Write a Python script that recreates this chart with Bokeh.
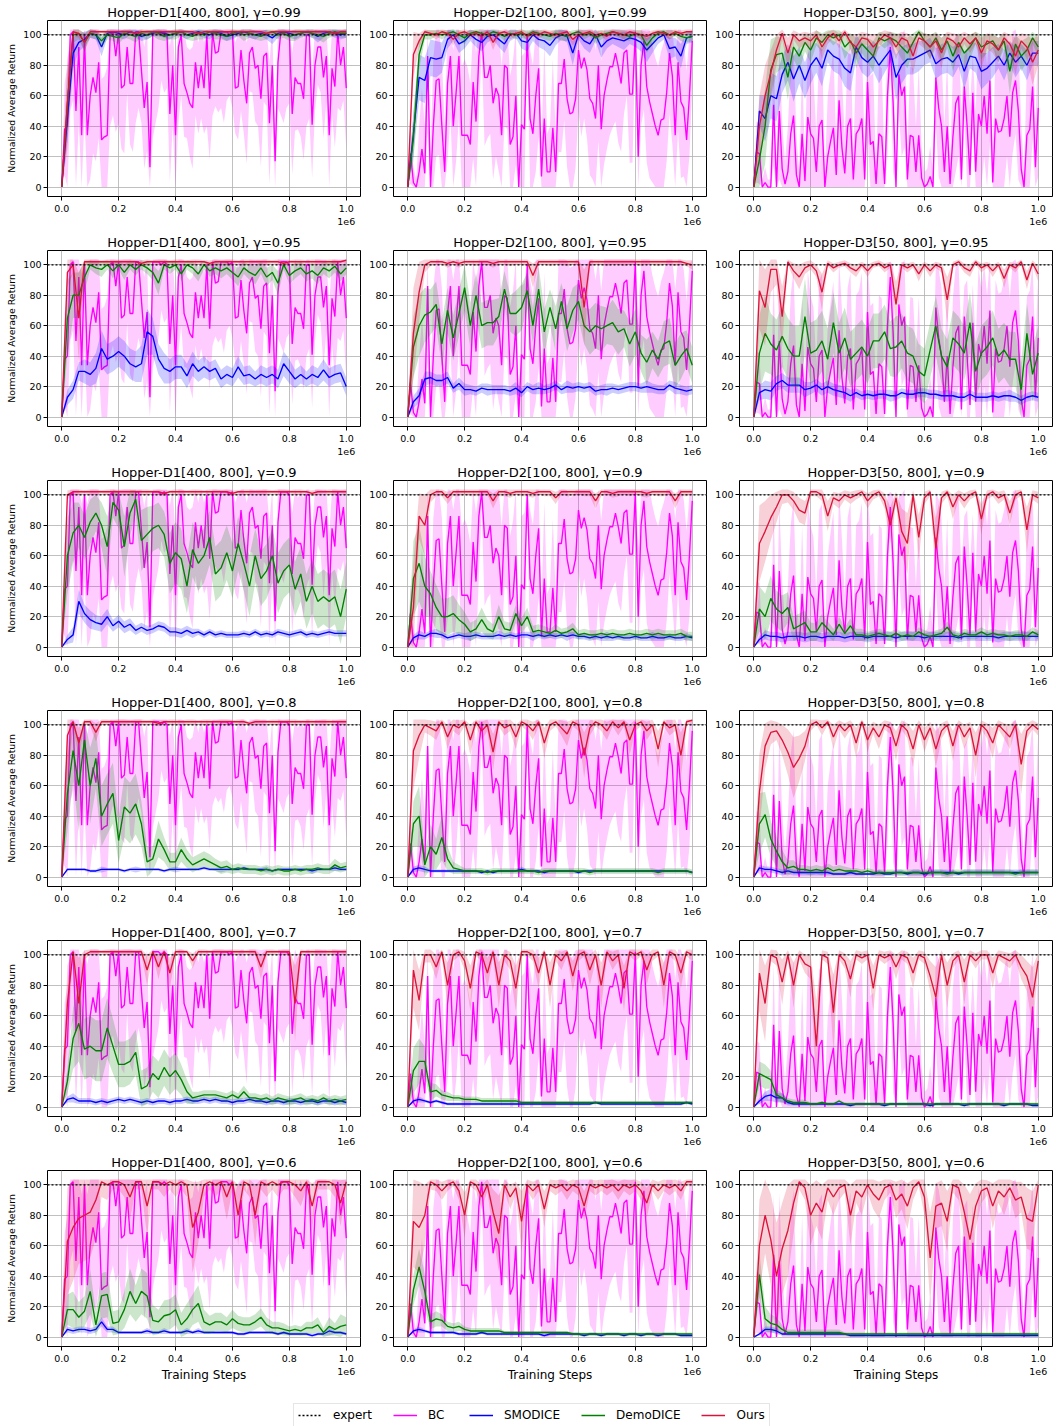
import numpy as np
from bokeh.plotting import figure
from bokeh.models import Range1d, FixedTicker, Span, Legend, LegendItem
from bokeh.layouts import gridplot, column
from bokeh.embed import file_html
from bokeh.resources import INLINE

FONT = "DejaVu Sans"
DATASETS = ["Hopper-D1[400, 800]", "Hopper-D2[100, 800]", "Hopper-D3[50, 800]"]
DKEYS = ["D1", "D2", "D3"]
GAMMAS = ["0.99", "0.95", "0.9", "0.8", "0.7", "0.6"]
GKEYS = ["G099", "G095", "G09", "G08", "G07", "G06"]
METHODS = ["BC", "SMODICE", "DemoDICE", "Ours"]
COLORS = {"BC": "#ff00ff", "SMODICE": "#0000ff", "DemoDICE": "#008000", "Ours": "#dc143c"}
EXPERT_SCORE = 100
MAX_STEPS = 1000000
BAND_CAP = 103.5
X_TICKS = [0, 200000, 400000, 600000, 800000, 1000000]
X_TICK_LABELS = ["0.0", "0.2", "0.4", "0.6", "0.8", "1.0\n1e6"]
Y_TICKS = [0, 20, 40, 60, 80, 100]

# ---------------- BC (independent of gamma) ----------------
BC_D1 = [0,38,40,100,102,50,92,34,100,34, 60,72,62,82,31,33,34,100,102,86,
         102,65,67,92,68,68,102,102,77,52, 69,13,102,102,102,100,102,100,48,80,
         34,92,100,68,62,55,52,82,65,80, 65,100,58,102,88,89,102,102,102,100,
         102,65,66,90,70,55,88,92,78,80, 58,86,88,42,80,17,82,102,102,102,
         100,48,72,68,68,58,100,100,41,80, 92,92,72,86,34,78,66,102,80,92, 65]
BC_D1_STD = [0,30,40,50,45,60,50,60,55,60, 55,50,45,50,40,40,45,60,55,50,
             60,40,45,30,40,45,60,50,35,40, 45,20,70,60,50,30,40,35,45,40,
             40,50,40,35,30,35,40,35,30,35, 30,60,40,55,35,40,50,60,45,40,
             50,30,35,40,35,40,25,30,35,40, 45,30,35,40,35,20,30,55,60,50,
             45,40,35,30,35,40,60,55,35,30, 25,30,40,30,40,30,40,50,30,35, 40]
BC_D2 = [0,22,3,0,10,25,9,86,0,40, 70,71,40,10,68,86,40,62,86,34,
         34,34,28,69,43,86,102,72,72,80, 55,65,60,34,80,78,28,33,60,0,
         41,38,100,45,35,60,78,7,45,10, 10,39,10,68,68,84,58,48,49,58,
         90,78,85,77,58,55,45,80,38,60, 70,79,79,88,79,68,88,90,61,61,
         102,20,80,96,66,56,48,40,34,44, 45,62,88,73,34,82,56,52,31,60, 96]
BC_D2_STD = [0,20,10,5,30,40,30,50,20,45, 50,50,45,30,50,40,50,45,40,45,
             50,45,40,50,45,40,10,45,40,45, 50,45,50,45,40,40,45,50,45,10,
             45,50,10,45,45,50,45,20,50,25, 30,45,25,45,45,40,45,50,50,45,
             40,45,40,45,50,50,45,50,45,45, 45,45,40,45,50,45,40,30,45,45,
             10,45,40,45,50,50,45,45,45,45, 50,45,40,45,50,45,50,45,45,40, 30]
BC_D3 = [0,23,22,0,3,0,0,54,0,50, 12,2,10,35,47,8,0,35,4,46,
         35,32,10,40,44,0,20,30,39,8, 57,26,9,40,45,5,35,38,45,5,
         69,28,30,2,35,33,2,60,92,55, 0,74,60,66,5,34,33,10,34,6,
         0,2,7,0,72,52,40,10,40,2, 33,55,60,5,66,40,8,62,10,48,
         40,60,35,70,3,45,36,37,45,60, 33,62,70,50,12,0,34,38,66,13, 52]
BC_D3_STD = [0,20,20,5,10,5,5,40,10,45, 30,15,30,45,50,25,10,45,15,50,
             45,40,25,50,50,10,40,45,50,20, 60,45,25,45,50,20,45,45,50,20,
             35,45,45,10,45,45,10,40,10,45, 10,25,40,40,20,45,45,30,45,20,
             10,10,20,10,30,45,45,30,45,10, 45,45,40,45,20,50,45,25,40,50,
             45,40,45,40,20,45,45,45,45,40, 45,40,35,45,30,10,45,45,35,30, 45]

# ---------------- gamma = 0.99 ----------------
SMODICE_D1_G099 = [0,45,88,95,97,101,100,92,101,102, 101,100,102,101,99,100,101,102,101,100, 101,102,100,101,102,101,100,102,101,99, 100,101,102,101,100,101,100,98,101,102, 101,100,101,102,101,99,101,102,101,100, 101]
SMODICE_D1_G099_STD = [0,15,10,6,5,3,3,6,3,2, 3,3,2,3,3,3,2,3,3,3, 2,3,3,2,3,3,3,2,3,3, 3,2,3,3,3,2,3,4,3,2, 3,3,2,3,3,4,3,2,3,3, 3]
DEMODICE_D1_G099 = [0,55,100,101,95,101,100,96,100,99, 98,101,100,99,101,100,102,101,99,100, 101,102,100,99,101,100,102,101,100,99, 101,102,100,101,100,99,101,102,100,101, 99,100,101,102,101,100,99,101,102,101, 101]
DEMODICE_D1_G099_STD = [0,20,5,4,6,3,3,4,3,3, 4,3,3,4,3,3,3,4,3,3, 4,3,3,3,4,3,3,4,3,3, 3,3,4,3,3,3,4,3,3,3, 3,4,3,3,3,3,4,3,3,3, 3]
OURS_D1_G099 = [0,55,102,101,95,102,102,102,102,102, 102,102,102,101,102,102,102,102,102,102, 102,102,102,102,101,102,102,102,102,102, 102,102,102,102,102,102,101,102,102,102, 102,102,102,102,102,102,102,102,101,102, 102]
OURS_D1_G099_STD = [0,30,3,3,6,2,2,1,2,2, 1,2,2,1,2,2,1,2,2,1, 2,2,1,2,2,1,2,2,1,2, 2,1,2,2,1,2,2,1,2,2, 1,2,2,1,2,2,1,2,2,1, 2]
SMODICE_D2_G099 = [0,35,72,70,85,84,85,97,100,94, 96,100,97,95,99,100,97,94,100,101, 96,95,100,97,96,93,98,100,99,88, 100,96,94,100,92,96,98,97,96,98, 97,95,90,94,98,100,91,92,86,98, 99]
SMODICE_D2_G099_STD = [0,15,15,15,12,12,10,6,4,6, 5,4,5,6,4,3,5,6,4,3, 5,6,4,5,6,7,5,3,4,8, 3,5,6,4,7,5,4,5,6,4, 5,6,8,6,4,3,7,6,8,4, 4]
DEMODICE_D2_G099 = [0,32,87,100,100,101,100,101,102,100, 98,101,102,101,100,102,101,99,101,100, 101,100,102,101,100,99,101,100,99,101, 102,100,101,98,100,101,102,101,100,99, 101,100,93,98,101,102,100,101,99,98, 99]
DEMODICE_D2_G099_STD = [0,15,10,3,3,2,3,2,2,3, 4,2,2,3,3,2,2,3,2,3, 3,3,2,2,3,3,3,4,3,2, 2,3,2,4,3,2,2,3,3,3, 2,3,5,4,2,2,3,2,3,3, 3]
OURS_D2_G099 = [0,87,96,102,101,100,102,101,97,101, 102,100,101,99,102,95,101,102,100,101, 102,99,101,100,102,101,100,101,102,97, 100,101,102,100,101,99,102,101,100,102, 101,100,99,101,102,101,100,102,101,102, 102]
OURS_D2_G099_STD = [0,15,5,2,2,3,2,2,4,2, 2,3,2,3,2,5,2,2,3,2, 2,3,2,3,2,2,3,2,2,4, 3,2,2,3,2,3,2,2,3,2, 2,3,3,2,2,2,3,2,2,2, 2]
SMODICE_D3_G099 = [0,50,45,60,58,74,82,71,80,70, 80,85,78,90,86,84,78,75,92,85, 82,86,80,85,90,72,80,84,84,86, 88,90,81,84,85,82,87,76,86,85, 76,78,82,86,80,88,82,86,80,88, 88]
SMODICE_D3_G099_STD = [0,10,15,15,15,12,12,15,12,12, 12,10,12,8,10,10,12,12,8,10, 10,10,12,10,8,15,12,10,10,10, 8,8,10,10,10,10,8,12,8,10, 12,10,10,8,10,8,10,8,10,8, 8]
DEMODICE_D3_G099 = [0,18,40,77,87,88,72,92,86,95, 90,98,95,100,98,100,92,96,88,94, 90,86,98,96,98,96,92,88,95,102, 96,92,98,90,96,86,95,88,92,98, 92,94,96,90,96,76,94,86,90,98, 92]
DEMODICE_D3_G099_STD = [0,20,25,20,12,10,15,8,10,6, 8,5,6,3,5,3,8,5,10,6, 8,10,4,5,4,5,8,10,6,2, 5,8,4,8,5,10,6,10,8,4, 8,6,5,8,5,15,6,10,8,4, 6]
OURS_D3_G099 = [0,40,60,75,90,101,88,100,96,98, 96,100,92,98,101,96,102,95,92,98, 97,92,96,100,98,92,98,96,86,98, 96,92,96,88,98,96,92,98,94,98, 88,96,94,90,98,94,86,96,92,82, 90]
OURS_D3_G099_STD = [0,20,20,15,10,4,10,3,5,4, 5,3,8,4,3,5,2,5,8,4, 4,8,5,3,4,8,4,5,12,4, 5,8,5,10,4,5,8,4,6,4, 10,5,6,8,4,6,12,5,8,15, 10]

# ---------------- gamma = 0.95 ----------------
SMODICE_D1_G095 = [0,13,18,30,30,28,32,45,38,40, 43,40,35,33,35,56,53,38,32,30, 33,33,27,35,30,33,30,32,25,28, 26,33,27,28,25,28,26,28,25,35, 30,25,28,25,28,26,31,26,28,29, 20]
SMODICE_D1_G095_STD = [0,5,6,6,8,8,10,12,10,10, 10,10,10,10,12,15,12,10,10,8, 8,8,8,8,7,7,6,6,6,6, 6,7,6,6,5,6,6,6,6,8, 8,6,6,5,6,6,7,6,6,6, 6]
DEMODICE_D1_G095 = [0,65,80,80,92,100,98,97,100,96, 100,95,100,97,100,98,95,88,100,98, 100,94,100,98,94,100,96,98,96,98, 95,92,98,95,93,98,92,95,88,100, 93,96,98,94,96,93,98,96,99,94, 98]
DEMODICE_D1_G095_STD = [0,25,15,15,10,3,4,5,3,5, 3,5,3,4,3,4,5,8,3,4, 3,5,3,4,5,3,4,4,5,4, 5,6,4,5,6,4,6,5,8,3, 6,5,4,5,5,6,4,5,4,5, 4]
OURS_D1_G095 = [0,95,100,65,102,102,102,102,102,102, 102,102,102,102,101,102,102,102,102,102, 102,102,102,102,102,102,101,102,102,102, 102,102,102,102,102,102,102,102,102,101, 102,102,102,102,102,102,102,102,102,102, 103]
OURS_D1_G095_STD = [0,10,5,30,2,2,2,1,2,2, 1,2,2,1,2,2,1,2,2,1, 2,2,1,2,2,1,2,2,1,2, 2,1,2,2,1,2,2,1,2,2, 1,2,2,1,2,2,1,2,2,1, 2]
SMODICE_D2_G095 = [0,10,14,25,26,24,24,26,19,22, 18,18,17,19,18,18,18,18,17,19, 16,20,18,19,18,19,21,18,20,19, 20,19,20,17,18,18,19,18,19,20, 20,19,20,19,18,18,21,19,18,17, 18]
SMODICE_D2_G095_STD = [0,4,5,5,4,4,4,4,3,4, 4,3,3,3,4,3,3,3,3,4, 3,3,3,4,3,3,3,3,4,3, 3,3,3,3,3,4,3,3,3,3, 3,3,4,3,3,3,3,4,3,3, 3]
DEMODICE_D2_G095 = [0,46,60,67,69,74,48,70,52,68, 85,60,80,60,62,62,66,84,68,68, 72,83,60,84,56,72,58,76,58,70, 76,60,56,60,58,60,62,56,58,48, 56,42,36,44,38,48,50,34,40,45, 34]
DEMODICE_D2_G095_STD = [0,20,20,18,15,15,15,15,15,15, 15,15,15,15,15,15,12,12,12,15, 15,12,12,15,15,12,15,12,15,15, 12,12,15,15,15,12,15,15,12,15, 15,12,15,12,12,15,15,15,15,12, 12]
OURS_D2_G095 = [0,55,82,100,102,102,102,101,102,101, 102,102,102,102,102,101,102,102,102,102, 102,102,93,102,102,102,102,102,102,102, 102,72,102,102,102,102,102,102,102,102, 102,102,102,102,102,102,102,102,102,101, 100]
OURS_D2_G095_STD = [0,30,20,5,3,2,2,3,2,3, 2,2,3,2,2,3,2,2,3,2, 2,3,8,2,2,3,2,2,3,2, 2,25,3,2,2,3,2,2,3,2, 2,3,2,2,3,2,2,3,2,2, 3]
SMODICE_D3_G095 = [0,16,18,17,22,24,21,21,21,18, 19,21,18,20,18,17,16,14,16,14, 15,14,15,15,14,14,16,15,15,16, 16,15,15,14,14,14,13,13,15,13, 13,13,14,13,14,14,13,11,13,14, 13]
SMODICE_D3_G095_STD = [0,5,6,6,5,5,5,5,5,5, 4,4,4,4,4,4,4,4,3,3, 3,3,3,3,4,3,3,3,3,3, 3,3,3,3,4,3,3,3,3,3, 3,3,3,3,3,4,3,3,3,3, 3]
DEMODICE_D3_G095 = [0,42,55,48,44,53,45,40,40,66, 42,44,50,38,62,42,52,38,42,46, 40,50,50,56,45,46,50,42,40,30, 27,44,60,40,33,52,48,42,62,30, 42,46,52,40,44,38,38,18,55,28, 42]
DEMODICE_D3_G095_STD = [0,25,25,20,20,20,20,20,20,25, 20,20,20,20,20,20,20,18,18,18, 18,18,18,18,18,20,18,18,18,18, 18,18,20,18,18,18,18,18,20,18, 18,18,18,18,18,18,18,18,20,18, 18]
OURS_D3_G095 = [0,83,72,97,97,66,102,96,92,98, 100,96,82,101,98,100,101,98,96,100, 96,100,101,98,100,74,100,98,100,94, 100,96,100,98,77,100,102,98,96,102, 98,100,96,100,91,100,98,102,90,101, 94]
OURS_D3_G095_STD = [0,25,25,15,10,20,2,5,8,4, 3,4,12,2,3,2,2,3,4,2, 4,2,2,3,2,15,2,3,2,5, 2,4,2,3,15,2,2,3,4,2, 3,2,4,2,6,2,3,2,6,2, 5]

# ---------------- gamma = 0.9 ----------------
SMODICE_D1_G09 = [0,5,8,30,22,18,16,15,20,14, 17,13,15,11,13,11,12,14,13,10, 10,9,11,9,10,8,10,8,9,8, 8,8,9,8,10,8,9,8,10,9, 8,9,10,8,9,8,9,10,9,9, 9]
SMODICE_D1_G09_STD = [0,3,5,8,6,6,5,5,5,4, 4,4,4,3,3,3,3,3,3,3, 3,3,3,3,2,2,2,2,2,2, 2,2,2,2,2,2,2,2,2,2, 2,2,2,2,2,2,2,2,2,2, 2]
DEMODICE_D1_G09 = [0,60,75,80,72,82,88,80,66,95, 90,66,88,97,70,74,78,80,74,55, 62,58,40,64,55,60,72,48,52,62, 50,68,55,40,60,45,50,60,42,50, 54,38,48,30,40,30,33,30,33,20, 38]
DEMODICE_D1_G09_STD = [0,25,20,15,15,15,12,15,20,10, 12,20,15,10,20,18,15,15,15,20, 20,20,18,18,18,18,18,18,18,18, 18,18,18,20,18,18,18,18,20,18, 18,18,18,18,18,18,18,18,18,18, 18]
OURS_D1_G09 = [0,100,102,102,102,102,102,102,102,102, 102,102,102,102,102,102,102,102,101,102, 102,102,102,102,102,102,102,102,102,102, 101,102,102,102,102,102,102,102,102,102, 102,102,102,102,101,102,102,102,102,102, 102]
OURS_D1_G09_STD = [0,3,2,2,1,2,2,1,2,2, 1,2,2,1,2,2,1,2,2,1, 2,2,1,2,2,1,2,2,1,2, 2,1,2,2,1,2,2,1,2,2, 1,2,2,1,2,2,1,2,2,1, 2]
SMODICE_D2_G09 = [0,6,8,7,9,9,8,6,7,8, 7,7,8,7,7,7,8,7,8,7, 8,8,7,8,7,8,7,8,7,8, 7,7,6,7,6,7,6,7,6,6, 7,6,6,7,6,6,7,6,6,7, 6]
SMODICE_D2_G09_STD = [0,2,3,2,2,3,2,2,2,2, 2,3,2,2,2,2,3,2,2,2, 2,2,3,2,2,2,2,2,3,2, 2,2,2,2,2,3,2,2,2,2, 2,2,2,3,2,2,2,2,2,2, 2]
DEMODICE_D2_G09 = [0,45,55,40,35,26,20,20,22,18, 15,10,12,18,12,10,20,12,11,22, 14,20,10,11,10,9,11,9,10,12, 8,9,8,8,9,8,9,8,8,9, 8,8,9,8,9,8,8,8,9,7, 7]
DEMODICE_D2_G09_STD = [0,25,25,20,15,15,12,12,12,10, 8,6,6,8,6,5,8,5,5,6, 5,6,4,4,4,3,4,3,3,4, 3,3,3,3,3,3,3,3,3,3, 3,3,3,3,3,3,3,3,3,3, 3]
OURS_D2_G09 = [0,26,86,80,100,102,102,98,102,102, 102,102,102,102,102,96,102,102,101,102, 102,102,101,102,102,102,98,102,102,102, 102,102,102,96,102,102,101,102,102,102, 102,102,101,102,102,102,102,96,102,102, 102]
OURS_D2_G09_STD = [0,30,15,20,5,3,3,4,3,3, 2,3,3,3,2,5,3,3,3,2, 3,3,3,2,3,3,4,2,3,3, 2,3,3,5,3,2,3,3,2,3, 2,3,3,2,3,3,2,5,3,3, 2]
SMODICE_D3_G09 = [0,5,8,7,7,6,7,7,7,6, 7,7,6,7,7,7,6,7,7,7, 6,7,7,7,7,6,7,7,7,7, 6,7,7,7,7,7,6,7,7,7, 7,7,7,6,7,7,7,7,7,7, 7]
SMODICE_D3_G09_STD = [0,2,3,3,3,3,3,3,3,3, 3,3,3,3,3,3,3,3,3,3, 3,3,3,3,3,3,3,3,3,3, 3,3,3,3,3,3,3,3,3,3, 3,3,3,3,3,3,3,3,3,3, 3]
DEMODICE_D3_G09 = [0,25,20,32,25,22,26,12,14,16, 10,10,16,12,8,15,9,14,8,8, 7,8,9,8,7,9,7,8,7,10, 8,7,8,9,13,8,7,9,8,8, 10,8,9,8,8,7,8,8,7,10, 8]
DEMODICE_D3_G09_STD = [0,15,15,15,12,12,10,8,8,8, 6,6,6,5,4,5,4,5,4,4, 3,3,3,3,3,3,3,3,3,3, 3,3,3,3,4,3,3,3,3,3, 3,3,3,3,3,3,3,3,3,3, 3]
OURS_D3_G09 = [0,68,76,85,92,100,100,96,90,88, 102,102,100,86,98,96,100,98,100,102, 96,100,102,96,80,98,76,68,100,72, 98,102,65,98,102,92,100,96,100,102, 84,100,102,98,100,88,100,102,77,100, 98]
OURS_D3_G09_STD = [0,25,20,15,10,6,5,6,8,8, 3,3,4,10,4,5,3,4,3,3, 5,3,3,5,12,4,15,20,3,15, 4,3,20,4,3,8,3,5,3,3, 10,3,3,4,3,8,3,3,15,3, 4]

# ---------------- gamma = 0.8 ----------------
SMODICE_D1_G08 = [0,5,5,5,5,4,4,5,5,5, 5,4,5,5,5,5,5,5,4,5, 5,5,5,5,5,6,5,5,5,5, 5,5,6,5,5,5,5,4,5,5, 5,5,5,5,4,5,5,5,6,5, 5]
SMODICE_D1_G08_STD = [0,1,1,1,1,1,1,2,1,1, 1,1,1,2,1,1,1,1,1,1, 2,1,1,1,1,1,1,1,2,1, 1,1,1,1,1,1,2,1,1,1, 1,1,1,1,2,1,1,1,2,1, 1]
DEMODICE_D1_G08 = [0,55,83,60,90,60,78,40,48,55, 24,46,42,48,35,10,12,25,18,10, 10,18,12,8,10,12,10,8,6,7, 5,6,5,5,5,4,5,4,5,4, 4,5,4,5,5,6,5,5,8,6, 7]
DEMODICE_D1_G08_STD = [0,25,20,30,15,25,20,20,20,20, 15,20,20,20,15,10,8,12,8,6, 6,8,6,5,5,5,5,4,4,4, 3,3,3,3,3,3,3,3,3,3, 3,3,3,3,3,3,3,3,4,3, 3]
OURS_D1_G08 = [0,93,102,88,102,102,95,102,102,102, 102,102,102,102,102,102,102,101,102,102, 102,102,102,102,102,102,102,102,102,102, 102,102,102,101,102,102,102,102,102,102, 102,102,102,102,102,102,102,102,102,102, 102]
OURS_D1_G08_STD = [0,30,3,10,2,3,6,2,2,1, 2,2,1,2,2,1,2,2,1,2, 2,1,2,2,1,2,2,1,2,2, 1,2,2,1,2,2,1,2,2,1, 2,2,1,2,2,1,2,2,1,2, 2]
SMODICE_D2_G08 = [0,5,6,5,4,4,4,4,4,4, 4,4,4,3,4,3,4,4,4,4, 5,4,4,4,3,4,4,4,4,4, 3,4,4,4,4,4,4,4,4,4, 4,4,4,4,4,4,4,4,4,4, 3]
SMODICE_D2_G08_STD = [0,2,2,2,1,1,1,1,1,1, 1,1,1,1,1,1,1,1,1,1, 2,1,1,1,1,1,1,1,1,1, 1,1,1,1,1,1,1,1,1,1, 1,1,1,1,1,1,1,1,1,1, 1]
DEMODICE_D2_G08 = [0,35,40,8,20,15,26,12,6,5, 4,4,4,4,3,4,4,4,4,4, 4,4,4,3,4,4,4,4,4,4, 4,4,3,4,4,4,4,4,4,4, 4,4,4,4,3,4,4,4,4,4, 3]
DEMODICE_D2_G08_STD = [0,15,20,8,15,10,15,8,4,3, 2,2,2,2,2,2,2,2,2,2, 2,2,2,2,2,2,2,2,2,2, 2,2,2,2,2,2,2,2,2,2, 2,2,2,2,2,2,2,2,2,2, 2]
OURS_D2_G08 = [0,83,93,100,98,96,102,92,100,98, 102,90,102,96,100,82,102,98,100,92, 102,100,96,102,88,100,102,98,94,102, 100,80,98,102,100,96,102,98,102,90, 100,102,96,100,84,102,98,100,80,102, 103]
OURS_D2_G08_STD = [0,25,15,5,5,6,3,8,4,5, 3,10,3,6,4,12,3,5,4,8, 3,4,6,3,10,4,3,5,8,3, 4,15,5,3,4,6,3,5,3,10, 4,3,6,4,12,3,5,4,15,3, 2]
SMODICE_D3_G08 = [0,6,5,5,4,3,4,3,3,3, 3,3,3,3,2,2,2,3,2,2, 2,2,3,2,2,3,3,2,3,3, 2,3,3,3,3,3,2,3,3,3, 3,3,3,3,3,3,3,3,3,3, 3]
SMODICE_D3_G08_STD = [0,2,2,2,2,2,2,2,2,2, 2,2,2,2,1,1,1,2,1,1, 1,1,2,1,1,2,2,1,2,2, 1,2,2,2,2,2,1,2,2,2, 2,2,2,2,2,2,2,2,2,2, 2]
DEMODICE_D3_G08 = [0,35,41,25,17,10,6,7,5,5, 4,5,4,6,4,5,4,4,4,3, 4,3,3,3,3,3,3,3,3,3, 3,3,3,3,2,3,3,3,3,3, 3,3,3,3,3,3,2,3,3,3, 3]
DEMODICE_D3_G08_STD = [0,20,15,12,10,8,5,4,3,3, 3,3,3,3,3,3,3,2,2,2, 2,2,2,2,2,2,2,2,2,2, 2,2,2,2,2,2,2,2,2,2, 2,2,2,2,2,2,2,2,2,2, 2]
OURS_D3_G08 = [0,56,86,95,96,90,82,72,78,86, 100,102,98,102,92,100,96,100,88,102, 90,98,92,100,98,86,100,96,84,100, 90,98,84,96,100,86,100,92,98,80, 100,96,88,100,96,92,100,74,96,100, 97]
OURS_D3_G08_STD = [0,25,15,8,6,10,15,20,15,10, 4,2,5,2,8,3,5,3,10,2, 8,4,8,3,4,10,3,5,12,3, 8,4,12,5,3,10,3,8,4,15, 3,5,10,3,5,8,3,20,5,3, 4]

# ---------------- gamma = 0.7 ----------------
SMODICE_D1_G07 = [0,5,6,4,4,4,3,4,3,4, 5,4,5,4,3,4,3,4,4,3, 4,4,5,4,4,5,4,5,4,4, 3,4,4,5,4,4,3,4,4,3, 4,4,3,4,4,3,4,4,3,4, 3]
SMODICE_D1_G07_STD = [0,2,3,2,2,2,2,2,2,2, 2,2,2,2,2,2,2,2,2,2, 2,2,2,2,2,2,2,2,2,2, 2,2,2,2,2,2,2,2,2,2, 2,2,2,2,2,2,2,2,2,2, 2]
DEMODICE_D1_G07 = [0,17,45,55,38,40,37,37,52,40, 28,28,30,36,12,14,22,18,26,20, 24,18,10,6,7,8,8,8,7,6, 8,6,10,6,6,5,6,4,6,5, 4,5,6,4,5,4,6,4,5,4, 5]
DEMODICE_D1_G07_STD = [0,8,20,25,20,20,20,20,20,18, 15,15,15,15,12,12,12,12,12,12, 12,10,8,4,3,3,3,3,3,3, 3,3,4,3,3,3,3,3,3,3, 3,3,3,3,3,3,3,3,3,3, 3]
OURS_D1_G07 = [0,68,102,68,100,102,102,102,102,102, 102,102,102,102,102,90,102,92,102,88, 102,102,102,96,102,102,102,102,102,102, 102,102,102,102,102,92,102,102,102,102, 102,68,102,102,102,102,102,102,102,102, 102]
OURS_D1_G07_STD = [0,25,3,30,3,2,2,1,2,2, 1,2,2,1,2,10,2,8,2,10, 2,2,1,5,2,2,1,2,2,1, 2,2,1,2,2,8,2,2,1,2, 2,25,2,1,2,2,1,2,2,1, 2]
SMODICE_D2_G07 = [0,4,5,4,3,4,3,2,2,2, 2,2,2,2,2,2,2,2,2,2, 2,2,2,2,2,2,2,2,2,2, 2,2,2,3,2,2,2,2,2,2, 2,2,2,2,2,2,2,2,2,3, 2]
SMODICE_D2_G07_STD = [0,1,2,1,1,1,1,1,1,1, 1,1,1,1,1,1,1,1,1,1, 1,1,1,1,1,1,1,1,1,1, 1,1,1,1,1,1,1,1,1,1, 1,1,1,1,1,1,1,1,1,1, 1]
DEMODICE_D2_G07 = [0,24,30,30,10,11,8,7,6,6, 5,5,5,4,4,4,4,4,4,4, 3,3,3,3,3,3,3,3,3,3, 3,3,3,3,3,3,3,3,3,3, 3,3,3,3,3,3,3,3,3,3, 3]
DEMODICE_D2_G07_STD = [0,15,15,10,6,4,3,3,2,2, 2,2,2,2,2,2,2,2,2,2, 1,1,1,1,1,1,1,1,1,1, 1,1,1,1,1,1,1,1,1,1, 1,1,1,1,1,1,1,1,1,1, 1]
OURS_D2_G07 = [0,90,70,100,100,92,102,80,100,102, 96,78,102,100,88,102,80,100,96,78, 102,102,100,88,102,80,100,96,102,86, 100,102,90,100,80,102,96,100,78,102, 100,102,90,100,102,80,102,100,88,102, 100]
OURS_D2_G07_STD = [0,25,20,5,5,8,3,15,4,3, 6,15,3,4,10,3,15,4,6,15, 3,3,4,10,3,15,4,6,3,10, 4,3,10,4,15,3,6,4,15,3, 4,3,10,4,3,15,3,4,10,3, 4]
SMODICE_D3_G07 = [0,4,7,8,6,6,3,2,2,2, 2,2,2,2,2,2,2,1,2,2, 2,2,2,1,2,2,2,2,2,2, 2,1,2,2,2,2,2,1,2,2, 2,2,2,2,1,2,2,2,2,1, 1]
SMODICE_D3_G07_STD = [0,2,3,4,3,3,2,1,1,1, 1,1,1,1,1,1,1,1,1,1, 1,1,1,1,1,1,1,1,1,1, 1,1,1,1,1,1,1,1,1,1, 1,1,1,1,1,1,1,1,1,1, 1]
DEMODICE_D3_G07 = [0,22,20,18,8,6,4,3,3,3, 2,2,3,2,2,4,2,2,2,2, 2,2,2,2,2,2,2,2,2,2, 2,2,2,2,2,2,2,2,2,2, 2,2,2,2,2,2,2,2,2,2, 2]
DEMODICE_D3_G07_STD = [0,8,8,6,4,3,2,2,2,2, 1,1,1,1,1,1,1,1,1,1, 1,1,1,1,1,1,1,1,1,1, 1,1,1,1,1,1,1,1,1,1, 1,1,1,1,1,1,1,1,1,1, 1]
OURS_D3_G07 = [0,88,68,100,98,82,100,80,100,94, 92,40,100,98,62,100,96,84,100,98, 100,78,100,98,100,92,100,98,88,100, 98,86,72,100,80,96,100,82,100,96, 100,100,88,100,98,96,100,92,86,72, 96]
OURS_D3_G07_STD = [0,25,25,4,5,15,3,15,3,6, 8,30,3,4,25,3,5,12,3,4, 3,15,3,4,3,8,3,4,10,3, 4,10,20,3,15,5,3,15,3,5, 3,3,10,3,4,5,3,8,10,20, 5]

# ---------------- gamma = 0.6 ----------------
SMODICE_D1_G06 = [0,5,4,5,5,4,5,10,5,5, 3,3,3,3,3,4,3,3,4,3, 3,3,4,3,4,3,3,3,3,3, 3,2,2,3,3,3,3,3,2,3, 2,2,2,2,1,2,2,4,3,3, 2]
SMODICE_D1_G06_STD = [0,2,2,2,2,2,2,3,2,2, 1,1,1,1,1,2,1,1,2,1, 1,1,2,1,2,1,1,1,1,1, 1,1,1,1,1,1,1,1,1,1, 1,1,1,1,1,1,1,3,1,1, 1]
DEMODICE_D1_G06 = [0,18,18,13,17,30,8,27,28,9, 10,18,30,22,30,27,11,10,14,15, 18,8,12,18,22,10,8,10,10,8, 12,9,8,8,10,13,8,6,6,5, 4,5,4,6,6,8,3,7,5,7, 8]
DEMODICE_D1_G06_STD = [0,10,12,10,10,15,8,15,15,8, 8,12,15,12,15,15,10,8,10,10, 10,8,10,10,12,8,6,6,6,5, 6,5,5,5,5,6,5,4,4,4, 3,3,3,4,4,5,3,6,4,8, 5]
OURS_D1_G06 = [0,63,72,78,80,82,90,102,100,102, 102,100,92,102,102,86,102,102,100,102, 100,102,100,72,82,100,102,100,102,92, 102,80,102,100,80,102,100,102,100,102, 102,100,96,102,86,102,102,102,100,88, 102]
OURS_D1_G06_STD = [0,35,35,30,30,30,25,10,10,5, 5,8,15,5,5,20,5,5,8,5, 8,5,8,30,20,8,5,8,5,15, 5,20,5,8,20,5,8,5,8,5, 5,8,10,5,15,5,5,5,8,15, 5]
SMODICE_D2_G06 = [0,4,5,4,3,3,3,3,3,2, 2,2,2,3,2,2,2,2,2,2, 2,2,2,2,1,2,2,2,2,2, 2,1,2,2,1,2,2,2,1,2, 2,1,2,2,1,2,2,2,1,1, 1]
SMODICE_D2_G06_STD = [0,1,2,1,1,1,1,1,1,1, 1,1,1,1,1,1,1,1,1,1, 1,1,1,1,1,1,1,1,1,1, 1,1,1,1,1,1,1,1,1,1, 1,1,1,1,1,1,1,1,1,1, 1]
DEMODICE_D2_G06 = [0,31,46,30,10,12,11,7,6,7, 5,4,4,4,4,4,4,3,3,3, 3,3,3,3,3,3,3,3,3,2, 2,2,2,2,2,2,2,2,2,2, 2,2,2,2,2,2,2,2,2,2, 2]
DEMODICE_D2_G06_STD = [0,10,12,12,5,5,4,3,3,3, 2,2,2,2,2,2,2,1,1,1, 1,1,1,1,1,1,1,1,1,1, 1,1,1,1,1,1,1,1,1,1, 1,1,1,1,1,1,1,1,1,1, 1]
OURS_D2_G06 = [0,76,72,80,102,100,96,100,102,96, 80,102,100,92,100,82,68,100,92,98, 76,100,96,100,84,100,98,100,96,100, 98,86,100,98,100,98,100,96,100,98, 100,96,88,100,96,100,98,100,96,102, 102]
OURS_D2_G06_STD = [0,30,30,20,5,4,6,4,3,6, 15,3,4,8,4,15,25,4,8,4, 20,4,6,4,12,4,5,4,6,4, 5,10,4,5,4,5,4,6,4,5, 4,6,10,4,6,4,5,4,6,3, 3]
SMODICE_D3_G06 = [0,2,5,5,4,2,2,2,2,2, 2,2,2,2,2,2,2,1,1,1, 1,1,1,1,1,1,1,1,1,1, 1,1,1,1,1,1,1,1,1,1, 1,1,1,1,1,1,1,1,1,1, 1]
SMODICE_D3_G06_STD = [0,1,2,2,2,1,1,1,1,1, 1,1,1,1,1,1,1,1,1,1, 1,1,1,1,1,1,1,1,1,1, 1,1,1,1,1,1,1,1,1,1, 1,1,1,1,1,1,1,1,1,1, 1]
DEMODICE_D3_G06 = [0,41,12,9,8,5,3,3,3,3, 3,3,3,3,3,3,2,2,2,2, 2,2,2,2,2,2,2,2,2,2, 2,2,2,2,2,2,2,2,2,2, 2,2,2,2,2,2,2,2,2,2, 2]
DEMODICE_D3_G06_STD = [0,15,8,6,5,3,2,2,2,2, 2,2,2,2,2,2,1,1,1,1, 1,1,1,1,1,1,1,1,1,1, 1,1,1,1,1,1,1,1,1,1, 1,1,1,1,1,1,1,1,1,1, 1]
OURS_D3_G06 = [0,60,80,64,40,58,70,88,102,98, 80,88,82,98,92,98,100,80,96,92, 100,94,90,98,100,90,94,86,98,102, 92,52,86,88,76,100,98,82,64,86, 96,98,86,96,92,98,90,92,78,76, 100]
OURS_D3_G06_STD = [0,30,25,30,35,30,30,20,5,8, 20,15,18,8,12,8,5,20,8,12, 5,10,12,8,5,12,10,15,8,3, 12,30,15,15,20,5,8,18,30,15, 8,5,15,8,12,6,12,10,20,20, 4]

BC_SERIES = {"D1": (BC_D1, BC_D1_STD), "D2": (BC_D2, BC_D2_STD), "D3": (BC_D3, BC_D3_STD)}
G = globals()


def get_series(method, dk, gk):
    if method == "BC":
        return BC_SERIES[dk]
    name = {"SMODICE": "SMODICE", "DemoDICE": "DEMODICE", "Ours": "OURS"}[method]
    return G[f"{name}_{dk}_{gk}"], G[f"{name}_{dk}_{gk}_STD"]


def make_panel(r, c):
    left = 47 if c == 0 else 28
    right = 5 if c < 2 else 4
    bottom = 36 if r == 5 else 34
    p = figure(frame_width=313, frame_height=176,
               min_border_left=left, min_border_right=right,
               min_border_top=20, min_border_bottom=bottom,
               x_range=Range1d(-0.05 * MAX_STEPS, 1.05 * MAX_STEPS),
               y_range=Range1d(-6.2, 109.4),
               toolbar_location=None, output_backend="svg",
               title=f"{DATASETS[c]}, \u03b3={GAMMAS[r]}")
    p.title.text_font = FONT
    p.title.text_font_size = "13px"
    p.title.text_font_style = "normal"
    p.title.text_color = "black"
    p.title.align = "center"
    p.title.standoff = 2
    p.background_fill_color = "white"
    p.border_fill_color = "white"
    p.outline_line_color = "black"
    p.outline_line_width = 1
    p.outline_line_alpha = 1

    p.xaxis.ticker = FixedTicker(ticks=X_TICKS)
    p.xaxis.major_label_overrides = {t: l for t, l in zip(X_TICKS, X_TICK_LABELS)}
    p.yaxis.ticker = FixedTicker(ticks=Y_TICKS)
    for ax in (p.xaxis, p.yaxis):
        ax.axis_line_color = None
        ax.major_tick_line_color = "black"
        ax.major_tick_out = 4
        ax.major_tick_in = 0
        ax.minor_tick_line_color = None
        ax.major_label_text_font = FONT
        ax.major_label_text_font_size = "9.5px"
        ax.major_label_text_color = "black"
        ax.major_label_standoff = 2
        ax.axis_label_text_font = FONT
        ax.axis_label_text_font_style = "normal"
        ax.axis_label_text_color = "black"
    if c == 0:
        p.yaxis.axis_label = "Normalized Average Return"
        p.yaxis.axis_label_text_font_size = "9.4px"
        p.yaxis.axis_label_standoff = 3
    if r == 5:
        p.xaxis.axis_label = "Training Steps"
        p.xaxis.axis_label_text_font_size = "12px"
        p.xaxis.axis_label_standoff = -12
    p.grid.grid_line_color = "#b0b0b0"
    p.grid.grid_line_width = 1
    p.grid.grid_line_alpha = 0.8

    dk, gk = DKEYS[c], GKEYS[r]
    for m in METHODS:
        mean, std = get_series(m, dk, gk)
        n = min(len(mean), len(std))
        mu = np.array(mean[:n], dtype=float)
        sd = np.array(std[:n], dtype=float)
        x = np.linspace(0, MAX_STEPS, n)
        lo = np.clip(mu - sd, 0, BAND_CAP)
        hi = np.clip(mu + sd, None, BAND_CAP)
        p.varea(x=x, y1=lo, y2=hi, fill_color=COLORS[m], fill_alpha=0.2)
        p.line(x, mu, line_color=COLORS[m], line_width=1.35)
    p.add_layout(Span(location=EXPERT_SCORE, dimension="width", line_color="black",
                      line_dash="2 2", line_width=1.2))
    return p


grid = [[make_panel(r, c) for c in range(3)] for r in range(6)]
gp = gridplot(grid, toolbar_location=None)

lg = figure(width=1056, height=44, toolbar_location=None, output_backend="svg",
            min_border=0, x_range=Range1d(0, 1), y_range=Range1d(0, 1),
            x_axis_location=None, y_axis_location=None)
lg.grid.visible = False
lg.outline_line_color = None
NO_DATA = np.array([np.nan])
items = []
r_exp = lg.line(NO_DATA, NO_DATA, line_color="black", line_dash="2 2", line_width=1.3)
items.append(LegendItem(label="expert", renderers=[r_exp]))
for m in METHODS:
    rr = lg.line(NO_DATA, NO_DATA, line_color=COLORS[m], line_width=1.5)
    items.append(LegendItem(label=m, renderers=[rr]))
legend = Legend(items=items, orientation="horizontal", location=(293, 1), margin=0,
                padding=4, spacing=21, glyph_width=24, glyph_height=14,
                label_standoff=11, label_height=14,
                label_text_font=FONT, label_text_font_size="12px",
                label_text_color="black",
                border_line_color="#cccccc", border_line_width=1,
                background_fill_color="white", background_fill_alpha=1)
lg.add_layout(legend)

layout = column(gp, lg)
open("out.html", "w").write(file_html(layout, INLINE))
